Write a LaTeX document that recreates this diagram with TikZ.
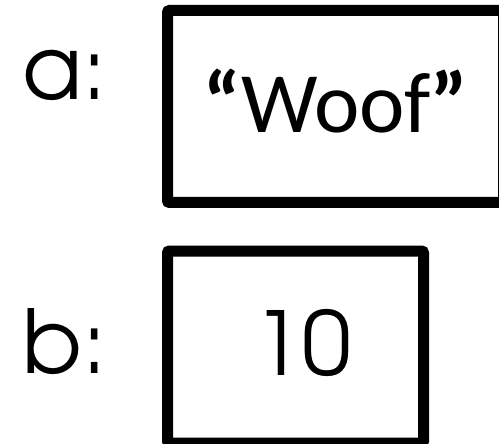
\documentclass[tikz,border=0pt]{standalone}
\usepackage{fontspec}
\newfontfamily\cfont{Carlito}
\newfontfamily\gfont{TeX Gyre Adventor}
\tikzset{
  valbox/.style={draw=black, line width=11pt, rounded corners=2pt, inner sep=0pt},
  lbl/.style={inner sep=0pt, font=\gfont\fontsize{88}{100}\selectfont},
  wtxt/.style={inner sep=0pt, font=\cfont\fontsize{86}{100}\selectfont}
}
\begin{document}
\begin{tikzpicture}[x=1pt,y=-1pt]
\useasboundingbox (0,0) rectangle (499,444);
\clip (0,0) rectangle (499,444);
\fill[white] (0,0) rectangle (499,444);
\node[valbox, minimum width=336pt, minimum height=192pt] (boxa) at (335.5,106.5) {};
\node[valbox, minimum width=256pt, minimum height=192pt] (boxb) at (295.5,347) {};
\node[lbl, anchor=base west] (la) at (22,100) {a:};
\node[lbl, anchor=base west] (lb) at (22,373) {b:};
\node[wtxt, anchor=base] (va) at (336,133) {{\bfseries“}Woof{\bfseries”}};
\node[lbl, anchor=base] (vb) at (302,375) {10};
\end{tikzpicture}
\end{document}
